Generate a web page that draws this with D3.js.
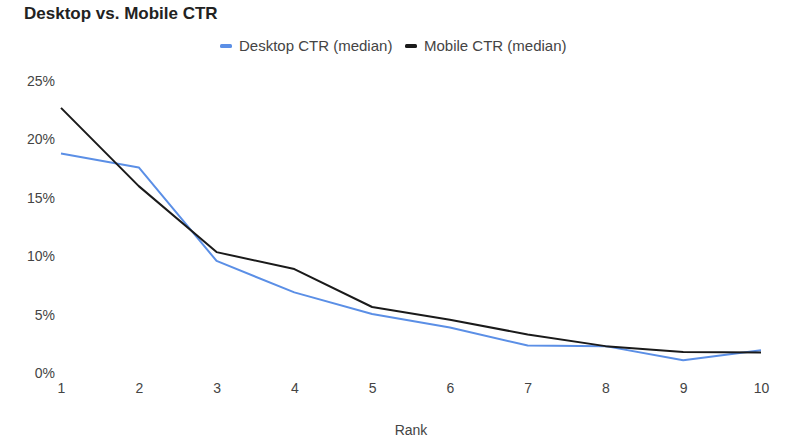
<!DOCTYPE html>
<html>
<head>
<meta charset="utf-8">
<script src="https://cdn.jsdelivr.net/npm/d3@7"></script>
<style>
  body { margin: 0; background: #fff; }
  svg { font-family: "Liberation Sans", Arial, sans-serif; }
</style>
</head>
<body>
<div id="chart"></div>
<script>
// chart data
const ranks = [1, 2, 3, 4, 5, 6, 7, 8, 9, 10];
const desktopCtr = [18.8, 17.6, 9.6, 6.9, 5.05, 3.9, 2.35, 2.3, 1.1, 1.95];
const mobileCtr = [22.7, 16.0, 10.35, 8.9, 5.65, 4.55, 3.3, 2.3, 1.8, 1.75];
const yTicks = [0, 5, 10, 15, 20, 25];
const seriesNames = ['Desktop CTR (median)', 'Mobile CTR (median)'];
const seriesColors = ['#5b8fe6', '#1a1a1a'];

const width = 796, height = 445;
const margin = { top: 81, right: 35, bottom: 72, left: 61 };

const svg = d3.select('#chart').append('svg')
    .attr('width', width)
    .attr('height', height);

const x = d3.scaleLinear()
    .domain([1, 10])
    .range([margin.left, width - margin.right]);
const y = d3.scaleLinear()
    .domain([0, 25])
    .range([height - margin.bottom, margin.top]);

// title
svg.append('text')
    .attr('x', 24)
    .attr('y', 19)
    .attr('font-size', 17)
    .attr('font-weight', 'bold')
    .attr('fill', '#222')
    .text('Desktop vs. Mobile CTR');

// legend
const legend = svg.append('g').attr('transform', 'translate(220,46)');
const legendX = [0, 185];
seriesNames.forEach((name, i) => {
    const g = legend.append('g').attr('transform', `translate(${legendX[i]},0)`);
    g.append('rect')
        .attr('x', 0).attr('y', -2)
        .attr('width', 12).attr('height', 4)
        .attr('rx', 1.5)
        .attr('fill', seriesColors[i]);
    g.append('text')
        .attr('x', 19)
        .attr('dy', '0.35em')
        .attr('font-size', 15)
        .attr('fill', '#444')
        .text(name);
});

// y axis labels
const yAxis = svg.append('g')
    .attr('transform', `translate(${margin.left - 6},0)`)
    .call(d3.axisLeft(y).tickValues(yTicks).tickFormat(d => d + '%').tickSize(0).tickPadding(0));
yAxis.select('.domain').remove();
yAxis.selectAll('text')
    .attr('font-size', 14)
    .attr('font-family', '"Liberation Sans", Arial, sans-serif')
    .attr('fill', '#444');

// x axis labels
const xAxis = svg.append('g')
    .attr('transform', `translate(0,${height - margin.bottom + 10})`)
    .call(d3.axisBottom(x).tickValues(ranks).tickFormat(d3.format('d')).tickSize(0).tickPadding(0));
xAxis.select('.domain').remove();
xAxis.selectAll('text')
    .attr('font-size', 14)
    .attr('font-family', '"Liberation Sans", Arial, sans-serif')
    .attr('fill', '#444');

svg.append('text')
    .attr('x', (margin.left + width - margin.right) / 2)
    .attr('y', 435)
    .attr('text-anchor', 'middle')
    .attr('font-size', 14)
    .attr('fill', '#444')
    .text('Rank');

// lines
const line = d3.line()
    .x((d, i) => x(ranks[i]))
    .y(d => y(d));

[desktopCtr, mobileCtr].forEach((vals, i) => {
    svg.append('path')
        .datum(vals)
        .attr('fill', 'none')
        .attr('stroke', seriesColors[i])
        .attr('stroke-width', 2)
        .attr('stroke-linejoin', 'round')
        .attr('d', line);
});
</script>
</body>
</html>
